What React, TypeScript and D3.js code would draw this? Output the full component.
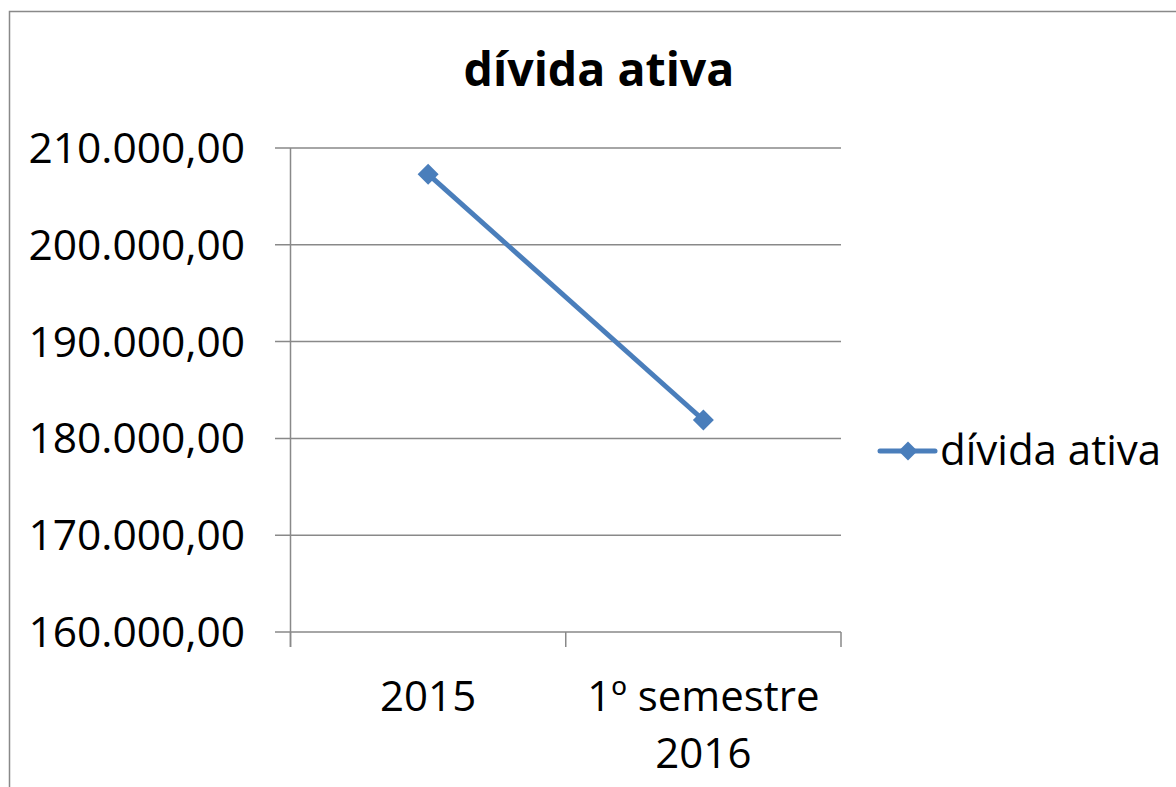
import React from "react";
import * as d3 from "d3";

const categories = ["2015", "1º semestre 2016"];
const categoryLines = [["2015"], ["1º semestre", "2016"]];
const values = [207300, 181900];
const seriesName = "dívida ativa";
const title = "dívida ativa";
const yTicks = [160000, 170000, 180000, 190000, 200000, 210000];

const W = 1176;
const H = 787;
const FONT = "'Open Sans', 'Noto Sans', sans-serif";
const BLUE = "#4A7EBB";
const GRID = "#898989";

const locale = d3.formatLocale({ decimal: ",", thousands: ".", grouping: [3], currency: ["R$", ""] });
const fmt = locale.format(",.2f");

export default function App() {
  const left = 290.5, right = 841, top = 148, bottom = 632;
  const x = d3.scaleBand<string>().domain(categories).range([left, right]).padding(0);
  const y = d3.scaleLinear().domain([160000, 210000]).range([bottom, top]);
  const cx = (c: string) => (x(c) as number) + x.bandwidth() / 2;
  const line = d3.line<number>().x((_, i) => cx(categories[i])).y((v) => y(v));
  const diamond = (px: number, py: number, r: number) =>
    `M${px},${py - r}L${px + r},${py}L${px},${py + r}L${px - r},${py}Z`;
  const xTickPositions = [...categories.map((c) => x(c) as number), right];
  const legX = 880, legY = 451;

  return (
    <svg width={W} height={H} style={{ position: "absolute", left: 0, top: 0, background: "#fff" }} fontFamily={FONT}>
      <rect x={9.5} y={11.5} width={W + 20} height={H + 20} fill="#fff" stroke={GRID} strokeWidth={1.5} />
      <text x={599} y={86} textAnchor="middle" fontSize={46.5} fontWeight="bold" fill="#000">{title}</text>
      {yTicks.map((t) => (
        <g key={t}>
          <line x1={275} x2={right} y1={y(t)} y2={y(t)} stroke={GRID} strokeWidth={1.5} />
          <text x={245} y={y(t) + 15} textAnchor="end" fontSize={42.5} fill="#000">{fmt(t)}</text>
        </g>
      ))}
      <line x1={left} x2={left} y1={top} y2={647} stroke={GRID} strokeWidth={1.5} />
      {xTickPositions.map((p, i) => (
        <line key={i} x1={p} x2={p} y1={bottom} y2={647} stroke={GRID} strokeWidth={1.5} />
      ))}
      {categories.map((c, i) => (
        <text key={c} x={cx(c)} y={711} textAnchor="middle" fontSize={42} fill="#000">
          {categoryLines[i].map((ln, j) => (
            <tspan key={j} x={cx(c)} dy={j === 0 ? 0 : 57}>{ln}</tspan>
          ))}
        </text>
      ))}
      <path d={line(values) || ""} fill="none" stroke={BLUE} strokeWidth={5} strokeLinejoin="round" />
      {values.map((v, i) => (
        <path key={i} d={diamond(cx(categories[i]), y(v), 10.5)} fill={BLUE} />
      ))}
      <line x1={legX} x2={legX + 55} y1={legY} y2={legY} stroke={BLUE} strokeWidth={5} strokeLinecap="round" />
      <path d={diamond(legX + 28, legY, 9.5)} fill={BLUE} />
      <text x={940} y={465} fontSize={42} fill="#000">{seriesName}</text>
    </svg>
  );
}
